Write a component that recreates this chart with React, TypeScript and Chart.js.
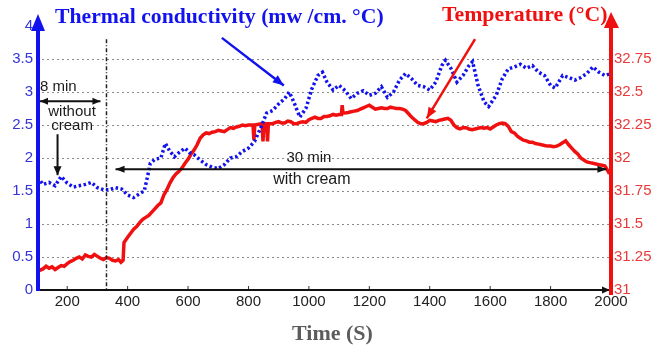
import { useEffect, useRef } from "react";
import { Chart, registerables } from "chart.js";

Chart.register(...registerables);

// ---- Data ----
const condTimes = [100, 110, 120, 140, 160, 180, 200, 220, 240, 260, 280, 300, 320, 340, 360, 380, 400, 420, 440, 455, 465, 475, 490, 510, 525, 540, 555, 570, 590, 605, 620, 640, 660, 680, 700, 720, 740, 760, 780, 800, 820, 840, 860, 880, 900, 920, 935, 950, 970, 990, 1010, 1030, 1045, 1060, 1080, 1100, 1120, 1140, 1160, 1180, 1200, 1220, 1240, 1260, 1280, 1300, 1320, 1340, 1360, 1380, 1400, 1420, 1440, 1452, 1470, 1490, 1510, 1530, 1542, 1560, 1580, 1595, 1620, 1640, 1660, 1680, 1700, 1720, 1740, 1760, 1780, 1800, 1815, 1840, 1860, 1880, 1900, 1920, 1940, 1960, 1980, 2000];
const condValues = [1.62, 1.66, 1.6, 1.63, 1.58, 1.72, 1.62, 1.56, 1.58, 1.6, 1.63, 1.55, 1.52, 1.52, 1.55, 1.53, 1.44, 1.4, 1.46, 1.5, 1.7, 1.92, 1.98, 2.0, 2.22, 2.1, 2.02, 2.08, 2.15, 2.08, 2.05, 1.97, 1.9, 1.86, 1.84, 1.9, 2.0, 2.02, 2.1, 2.15, 2.25, 2.45, 2.68, 2.72, 2.82, 2.9, 3.0, 2.85, 2.62, 2.75, 3.05, 3.25, 3.3, 3.15, 3.03, 3.1, 3.02, 2.9, 2.98, 3.02, 2.95, 2.98, 3.08, 2.92, 3.0, 3.18, 3.28, 3.2, 3.1, 3.08, 3.03, 3.15, 3.4, 3.48, 3.36, 3.15, 3.25, 3.4, 3.46, 3.1, 2.85, 2.78, 2.95, 3.2, 3.35, 3.38, 3.42, 3.36, 3.4, 3.3, 3.25, 3.1, 3.06, 3.25, 3.22, 3.18, 3.22, 3.28, 3.38, 3.3, 3.25, 3.28];

const tempTimes = [100, 110, 120, 130, 140, 150, 160, 170, 180, 190, 200, 210, 220, 230, 240, 250, 260, 270, 280, 290, 300, 310, 320, 330, 340, 350, 360, 370, 378, 385, 388, 400, 410, 420, 430, 440, 450, 460, 470, 480, 490, 500, 510, 520, 530, 540, 550, 560, 570, 580, 590, 600, 610, 620, 630, 640, 650, 660, 670, 680, 690, 700, 710, 720, 730, 740, 750, 760, 770, 780, 790, 800, 815, 818, 821, 845, 848, 851, 860, 863, 866, 880, 890, 900, 910, 920, 930, 940, 950, 960, 970, 980, 990, 1000, 1010, 1020, 1030, 1040, 1050, 1060, 1070, 1080, 1090, 1100, 1108, 1110, 1113, 1118, 1130, 1140, 1150, 1160, 1170, 1180, 1190, 1200, 1210, 1220, 1230, 1240, 1250, 1260, 1270, 1280, 1290, 1300, 1310, 1320, 1330, 1340, 1350, 1360, 1370, 1380, 1390, 1400, 1410, 1420, 1430, 1440, 1450, 1460, 1470, 1480, 1490, 1500, 1510, 1520, 1530, 1540, 1550, 1560, 1570, 1580, 1590, 1600, 1610, 1620, 1630, 1640, 1650, 1660, 1670, 1680, 1690, 1700, 1710, 1720, 1730, 1740, 1750, 1760, 1770, 1780, 1790, 1800, 1810, 1820, 1830, 1840, 1850, 1860, 1870, 1880, 1890, 1900, 1910, 1920, 1930, 1940, 1950, 1960, 1970, 1980, 1990, 1995, 2000];
const tempValues = [31.17, 31.15, 31.16, 31.18, 31.165, 31.175, 31.155, 31.17, 31.185, 31.18, 31.2, 31.215, 31.225, 31.24, 31.25, 31.235, 31.265, 31.255, 31.25, 31.27, 31.255, 31.24, 31.23, 31.245, 31.24, 31.225, 31.22, 31.23, 31.21, 31.225, 31.36, 31.4, 31.43, 31.46, 31.48, 31.51, 31.535, 31.55, 31.565, 31.59, 31.615, 31.64, 31.66, 31.72, 31.76, 31.81, 31.85, 31.88, 31.9, 31.925, 31.96, 31.99, 32.03, 32.06, 32.1, 32.15, 32.175, 32.19, 32.185, 32.195, 32.2, 32.21, 32.205, 32.2, 32.215, 32.23, 32.225, 32.235, 32.24, 32.25, 32.245, 32.25, 32.25, 32.135, 32.25, 32.26, 32.125, 32.26, 32.26, 32.125, 32.26, 32.26, 32.27, 32.275, 32.265, 32.265, 32.28, 32.275, 32.26, 32.26, 32.27, 32.275, 32.27, 32.29, 32.3, 32.31, 32.3, 32.3, 32.315, 32.315, 32.32, 32.33, 32.325, 32.33, 32.33, 32.4, 32.34, 32.34, 32.345, 32.35, 32.355, 32.36, 32.37, 32.38, 32.39, 32.4, 32.385, 32.37, 32.375, 32.38, 32.375, 32.375, 32.385, 32.38, 32.375, 32.375, 32.37, 32.36, 32.335, 32.31, 32.29, 32.27, 32.26, 32.26, 32.27, 32.285, 32.28, 32.275, 32.285, 32.29, 32.295, 32.3, 32.285, 32.25, 32.23, 32.22, 32.23, 32.23, 32.22, 32.215, 32.22, 32.225, 32.23, 32.225, 32.23, 32.22, 32.235, 32.25, 32.26, 32.265, 32.26, 32.24, 32.2, 32.19, 32.165, 32.15, 32.135, 32.13, 32.12, 32.12, 32.11, 32.105, 32.1, 32.095, 32.09, 32.09, 32.085, 32.09, 32.1, 32.115, 32.13, 32.1, 32.075, 32.05, 32.03, 32.0, 31.985, 31.97, 31.965, 31.96, 31.955, 31.95, 31.945, 31.94, 31.9, 31.88];

const xTickValues = [200, 400, 600, 800, 1000, 1200, 1400, 1600, 1800, 2000];
const leftTickValues = [0, 0.5, 1, 1.5, 2, 2.5, 3, 3.5, 4];
const rightTickValues = [31, 31.25, 31.5, 31.75, 32, 32.25, 32.5, 32.75, 33];

const condTitle = "Thermal conductivity (mw /cm. °C)";
const tempTitle = "Temperature (°C)";
const timeTitle = "Time (S)";

const BLUE = "#1212ee";
const RED = "#f01010";

function arrowHead(ctx: CanvasRenderingContext2D, x1: number, y1: number, x2: number, y2: number, len: number, half: number) {
  const a = Math.atan2(y2 - y1, x2 - x1);
  ctx.beginPath();
  ctx.moveTo(x2, y2);
  ctx.lineTo(x2 - len * Math.cos(a) + half * Math.sin(a), y2 - len * Math.sin(a) - half * Math.cos(a));
  ctx.lineTo(x2 - len * Math.cos(a) - half * Math.sin(a), y2 - len * Math.sin(a) + half * Math.cos(a));
  ctx.closePath();
  ctx.fill();
}

function arrow(ctx: CanvasRenderingContext2D, x1: number, y1: number, x2: number, y2: number, color: string, width: number, len: number, half: number, both = false) {
  ctx.save();
  ctx.strokeStyle = color;
  ctx.fillStyle = color;
  ctx.lineWidth = width;
  ctx.beginPath();
  ctx.moveTo(x1, y1);
  ctx.lineTo(x2, y2);
  ctx.stroke();
  arrowHead(ctx, x1, y1, x2, y2, len, half);
  if (both) arrowHead(ctx, x2, y2, x1, y1, len, half);
  ctx.restore();
}

function stretchedText(ctx: CanvasRenderingContext2D, text: string, x: number, y: number, sx: number) {
  ctx.save();
  ctx.translate(x, y);
  ctx.scale(sx, 1);
  ctx.fillText(text, 0, 0);
  ctx.restore();
}

const decorPlugin = {
  id: "decor",
  afterDraw(chart: any) {
    const ctx: CanvasRenderingContext2D = chart.ctx;
    const { left, right, bottom } = chart.chartArea;
    const xs = chart.scales.x;
    const ys = chart.scales.y;
    const X = (t: number) => xs.getPixelForValue(t);
    const Y = (v: number) => ys.getPixelForValue(v);

    // vertical dash-dot divider
    ctx.save();
    ctx.strokeStyle = "#222";
    ctx.lineWidth = 1.5;
    ctx.setLineDash([4, 2, 1, 2]);
    ctx.beginPath();
    ctx.moveTo(X(330), Y(3.8));
    ctx.lineTo(X(330), bottom);
    ctx.stroke();
    ctx.restore();

    // x ticks (inside)
    ctx.save();
    ctx.strokeStyle = "#333";
    ctx.lineWidth = 1;
    xTickValues.forEach((t) => {
      ctx.beginPath();
      ctx.moveTo(X(t), bottom);
      ctx.lineTo(X(t), bottom - 4);
      ctx.stroke();
    });
    ctx.restore();

    // x axis with arrow
    arrow(ctx, left, bottom, right - 1, bottom, "#111", 2, 8, 3.5);

    // left blue axis
    ctx.save();
    ctx.fillStyle = BLUE;
    ctx.fillRect(left - 1, 28, 4, bottom - 28 + 1);
    ctx.beginPath();
    ctx.moveTo(left + 1, 14);
    ctx.lineTo(left + 8, 31);
    ctx.lineTo(left - 6, 31);
    ctx.closePath();
    ctx.fill();
    // right red axis
    ctx.fillStyle = RED;
    ctx.fillRect(right - 2, 25, 4, bottom - 25 + 5);
    ctx.beginPath();
    ctx.moveTo(right, 12);
    ctx.lineTo(right + 8, 28);
    ctx.lineTo(right - 7, 28);
    ctx.closePath();
    ctx.fill();
    ctx.restore();

    // annotations
    ctx.save();
    ctx.fillStyle = "#1a1a1a";
    ctx.font = "15px 'Liberation Sans', Arial, sans-serif";
    ctx.textBaseline = "middle";
    ctx.textAlign = "left";
    ctx.fillText("8 min", X(110), Y(3.08));
    ctx.textAlign = "center";
    ctx.fillText("without", X(216), Y(2.7));
    ctx.fillText("cream", X(216), Y(2.48));
    ctx.fillText("30 min", X(1000), Y(2.0));
    ctx.font = "16px 'Liberation Sans', Arial, sans-serif";
    ctx.fillText("with cream", X(1010), Y(1.67));
    ctx.restore();

    arrow(ctx, X(110), Y(2.86), X(310), Y(2.86), "#111", 2, 8, 3.5, true);
    arrow(ctx, X(168), Y(2.36), X(168), Y(1.74), "#111", 2, 9, 4);
    arrow(ctx, X(360), Y(1.83), X(1985), Y(1.83), "#111", 2, 9, 3.5, true);

    arrow(ctx, X(712), Y(3.82), X(917), Y(3.1), BLUE, 2.5, 11, 4.5);
    arrow(ctx, X(1550), Y(3.8), X(1390), Y(2.6), RED, 2.5, 11, 4.5);

    // titles
    ctx.save();
    ctx.textBaseline = "alphabetic";
    ctx.textAlign = "left";
    ctx.font = "bold 20px 'Liberation Serif', 'Times New Roman', serif";
    ctx.fillStyle = BLUE;
    stretchedText(ctx, condTitle, 55, 23, 1.085);
    ctx.fillStyle = RED;
    stretchedText(ctx, tempTitle, 442, 21, 1.09);
    ctx.fillStyle = "#5c5c5c";
    ctx.font = "bold 20px 'Liberation Serif', 'Times New Roman', serif";
    stretchedText(ctx, timeTitle, 292, 340, 1.1);
    ctx.restore();
  },
};

export default function App() {
  const ref = useRef<HTMLCanvasElement | null>(null);
  useEffect(() => {
    if (!ref.current) return;
    const chart = new Chart(ref.current, {
      type: "line",
      data: {
        datasets: [
          {
            label: "Thermal conductivity",
            data: condTimes.map((t, i) => ({ x: t, y: condValues[i] })),
            borderColor: BLUE,
            borderWidth: 3.5,
            borderDash: [2.5, 2.5],
            pointRadius: 0,
            tension: 0,
            yAxisID: "y",
          },
          {
            label: "Temperature",
            data: tempTimes.map((t, i) => ({ x: t, y: tempValues[i] })),
            borderColor: RED,
            borderWidth: 3.5,
            pointRadius: 0,
            tension: 0,
            yAxisID: "y1",
          },
        ],
      },
      options: {
        animation: false,
        responsive: false,
        devicePixelRatio: 1,
        layout: { padding: { top: 26, left: 0, right: 0, bottom: 0 } },
        plugins: { legend: { display: false }, tooltip: { enabled: false } },
        scales: {
          x: {
            type: "linear",
            min: 100,
            max: 2000,
            afterBuildTicks: (s: any) => {
              s.ticks = xTickValues.map((v) => ({ value: v }));
            },
            afterFit: (s: any) => {
              s.height = 56;
            },
            ticks: {
              color: "#222",
              font: { family: "'Liberation Sans', Arial, sans-serif", size: 15 },
              padding: 3,
              maxRotation: 0,
              autoSkip: false,
              callback: (v: any) => String(v),
            },
            grid: { display: false, drawTicks: false },
            border: { display: false },
          },
          y: {
            position: "left",
            min: 0,
            max: 4,
            afterBuildTicks: (s: any) => {
              s.ticks = leftTickValues.map((v) => ({ value: v }));
            },
            afterFit: (s: any) => {
              s.width = 37;
            },
            ticks: {
              color: "#3434d8",
              font: { family: "'Liberation Sans', Arial, sans-serif", size: 15 },
              padding: 4,
              callback: (v: any) => String(v),
            },
            grid: {
              drawTicks: false,
              lineWidth: 1,
              color: (c: any) => (c.tick && c.tick.value > 0 && c.tick.value < 4 ? "#8a8a8a" : "rgba(0,0,0,0)"),
            },
            border: { display: false, dash: [2, 3] },
          },
          y1: {
            position: "right",
            min: 31,
            max: 33,
            afterBuildTicks: (s: any) => {
              s.ticks = rightTickValues.map((v) => ({ value: v }));
            },
            afterFit: (s: any) => {
              s.width = 47;
            },
            ticks: {
              color: "#e83a3a",
              font: { family: "'Liberation Sans', Arial, sans-serif", size: 15 },
              padding: 3,
              callback: (v: any) => (v === 33 ? "" : String(v)),
            },
            grid: { display: false, drawTicks: false },
            border: { display: false },
          },
        },
      },
      plugins: [decorPlugin],
    });
    return () => chart.destroy();
  }, []);
  return (
    <div style={{ position: "absolute", left: 0, top: 0, width: 658, height: 346, background: "#fff" }}>
      <canvas ref={ref} width={658} height={346} style={{ width: 658, height: 346, display: "block" }} />
    </div>
  );
}
